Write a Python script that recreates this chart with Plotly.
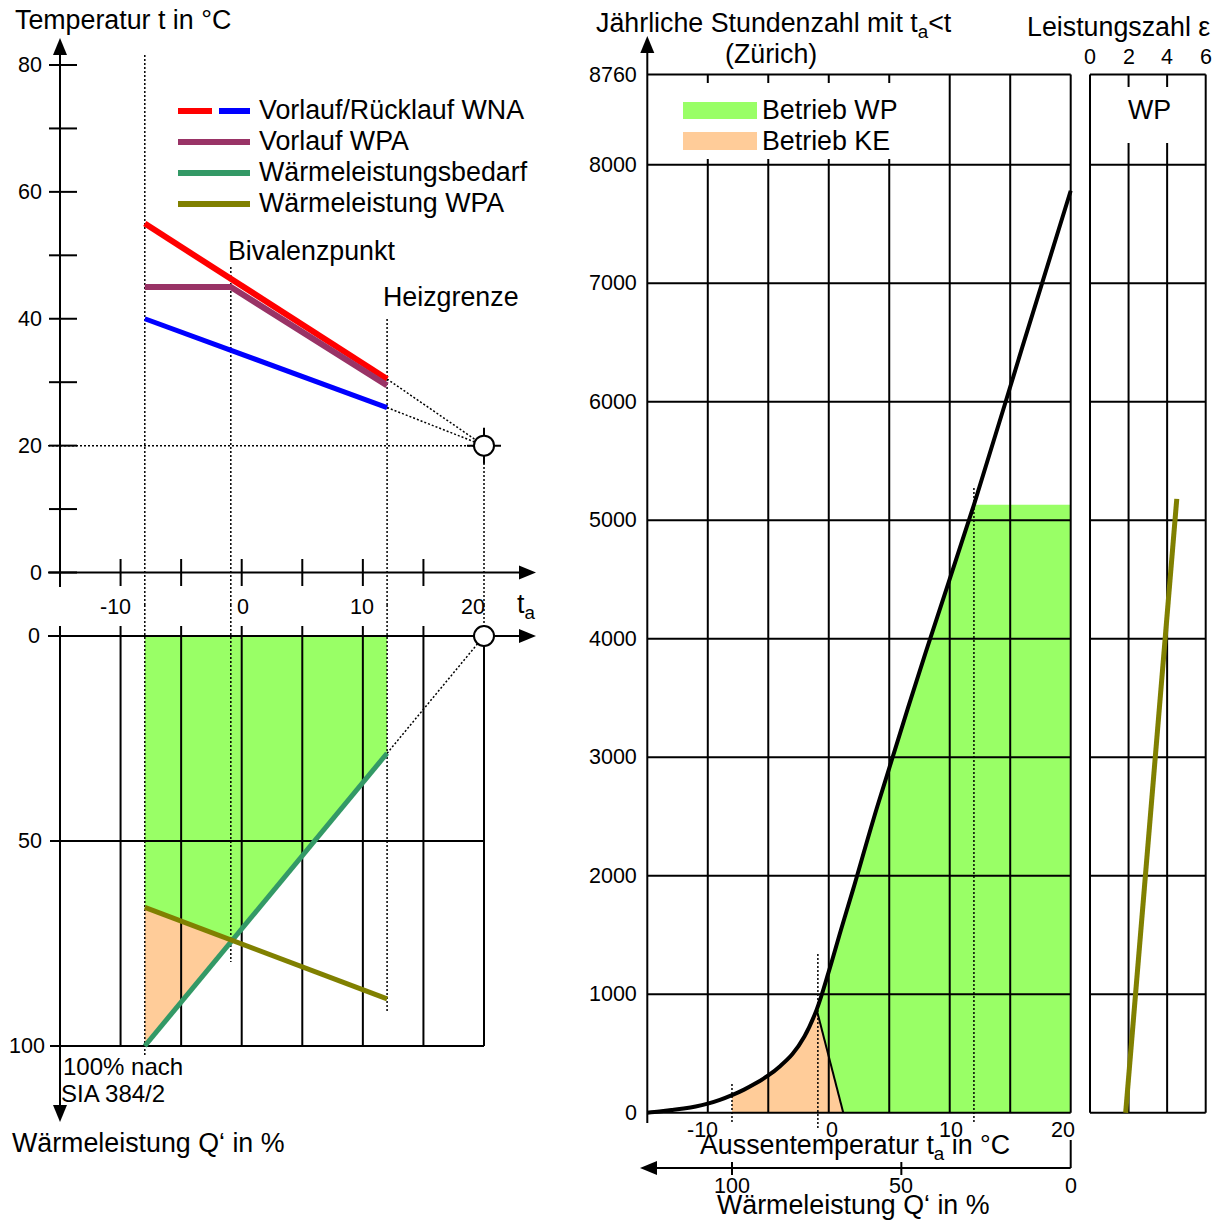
import plotly.graph_objects as go

W = H = 1220
FONT = "Liberation Sans, Arial, sans-serif"
K = "#000000"
RED, BLUE, PURPLE = "#FF0000", "#0000FF", "#993366"
SEAGREEN, OLIVE = "#339966", "#808000"
FILL_WP, FILL_KE = "#99FF66", "#FFCC99"
DOT = "2px,2px"
TXT = 26.8      # label font size
TCK = 21.5      # tick label font size

# ---------------- data ----------------
# top-left: supply / return temperatures vs. outdoor temperature ta
ta_wna = [-8, 12]
t_vl_wna = [55, 30.5]          # Vorlauf WNA
t_rl_wna = [40, 26]            # Rücklauf WNA
ta_vl_wpa = [-8, -0.9, 12]
t_vl_wpa = [45, 45, 29.5]      # Vorlauf WPA
ta_design = -8                 # Auslegungstemperatur
ta_biv = -0.9                  # Bivalenzpunkt
ta_hg = 12                     # Heizgrenze
ta_zero, t_zero = 20, 20       # convergence point

# bottom-left: heat power in % vs. ta
ta_bedarf = [-8, 12]
q_bedarf = [100, 28.6]         # Wärmeleistungsbedarf
ta_wpa_q = [-8, 12]
q_wpa = [66.2, 88.5]           # Wärmeleistung WPA

# right: yearly hours with ta < t (Zürich)
ta_hours = [-15, -14, -13, -12, -11, -10, -9, -8, -7, -6, -5, -4, -3, -2, -1,
            0, 1, 2, 4, 8, 12, 16, 20]
hours = [0, 10, 22, 35, 52, 76, 108, 148, 195, 250, 314, 395, 495, 645, 870,
         1190, 1540, 1880, 2580, 3880, 5130, 6460, 7780]
ta_split = [-1, 1.2]
h_split = [870, 0]

# far right: COP (Leistungszahl) of the heat pump vs. hours
cop_h = [0, 5180]
cop_eps = [1.85, 4.5]

# tick values
t_ticks = [0, 10, 20, 30, 40, 50, 60, 70, 80]
t_labels = [0, 20, 40, 60, 80]
ta_ticks = [-10, -5, 0, 5, 10, 15]
ta_grid = [-10, -5, 0, 5, 10, 15, 20]
ta_labels = [-10, 0, 10, 20]
q_grid = [50, 100]
q_labels = [0, 50, 100]
h_ticks = [0, 1000, 2000, 3000, 4000, 5000, 6000, 7000, 8000, 8760]
q_right_labels = [100, 50, 0]
eps_ticks = [0, 2, 4, 6]
eps_grid_inner = [2, 4]


# ---------------- scales (value <-> pixel) ----------------
class Sc:
    def __init__(s, v0, p0, v1, p1):
        s.k = (p1 - p0) / (v1 - v0)
        s.v0, s.p0 = v0, p0

    def v(s, p):
        return s.v0 + (p - s.p0) / s.k

    def p(s, v):
        return s.p0 + (v - s.v0) * s.k

    def dv(s, dp):
        return dp / abs(s.k)


XL = Sc(-15, 60, 20, 484)
YA = Sc(0, 572.5, 80, 65)
YB = Sc(0, 636, 100, 1046)
XC = Sc(-15, 647.3, 20, 1070.7)
YC = Sc(0, 1112.7, 8760, 74.6)
XD = Sc(0, 1090, 6, 1205.7)

PAN = {
    "A": ("x", "y", XL, YA),
    "B": ("x2", "y2", XL, YB),
    "C": ("x3", "y3", XC, YC),
    "D": ("x4", "y4", XD, YC),
}

fig = go.Figure()


def line(xs, ys, p, color=K, width=2, dash=None, shape="linear"):
    xa, ya = PAN[p][:2]
    fig.add_trace(go.Scatter(x=xs, y=ys, xaxis=xa, yaxis=ya, mode="lines",
                             line=dict(color=color, width=width, dash=dash,
                                       shape=shape),
                             hoverinfo="skip", showlegend=False))


def segs(lst, p, **kw):
    xs, ys = [], []
    for x0, y0, x1, y1 in lst:
        xs += [x0, x1, None]
        ys += [y0, y1, None]
    line(xs, ys, p, **kw)


def area(xs, ys, p, color):
    xa, ya = PAN[p][:2]
    fig.add_trace(go.Scatter(x=list(xs) + [xs[0]], y=list(ys) + [ys[0]],
                             xaxis=xa, yaxis=ya, mode="lines", fill="toself",
                             fillcolor=color, line=dict(width=0, color=color),
                             hoverinfo="skip", showlegend=False))


def arrow(tx, ty, d, p, L=17, hw=7):
    sx, sy = PAN[p][2:]
    X, Y = sx.p(tx), sy.p(ty)
    if d == "up":
        pts = [(X, Y), (X - hw, Y + L), (X + hw, Y + L)]
    elif d == "down":
        pts = [(X, Y), (X - hw, Y - L), (X + hw, Y - L)]
    elif d == "right":
        pts = [(X, Y), (X - L, Y - hw), (X - L, Y + hw)]
    else:
        pts = [(X, Y), (X + L, Y - hw), (X + L, Y + hw)]
    area([sx.v(a) for a, b in pts], [sy.v(b) for a, b in pts], p, K)


def circle(x, y, p):
    xa, ya = PAN[p][:2]
    fig.add_trace(go.Scatter(x=[x], y=[y], xaxis=xa, yaxis=ya, mode="markers",
                             marker=dict(size=20, color="white",
                                         line=dict(color=K, width=2)),
                             hoverinfo="skip", showlegend=False))


def ptext(s, x, y, size=TXT, xa="left", ya="middle"):
    fig.add_annotation(text=s, x=x / W, y=1 - y / H, xref="paper", yref="paper",
                       xanchor=xa, yanchor=ya, showarrow=False,
                       font=dict(family=FONT, size=size, color=K))


def dtext(s, x, y, p, xshift=0, yshift=0, size=TCK, xa="center", ya="middle"):
    xr, yr = PAN[p][:2]
    fig.add_annotation(text=s, x=x, y=y, xref=xr, yref=yr, xshift=xshift,
                       yshift=yshift, xanchor=xa, yanchor=ya, showarrow=False,
                       font=dict(family=FONT, size=size, color=K))


# ================= Panel A: temperatures =================
A_bot = YA.v(605)
segs([(ta_design, A_bot, ta_design, YA.v(55)),
      (ta_biv, A_bot, ta_biv, YA.v(267)),
      (ta_hg, A_bot, ta_hg, YA.v(318)),
      (XL.v(48), t_zero, ta_zero, t_zero),
      (ta_zero, A_bot, ta_zero, t_zero),
      (ta_wna[-1], t_vl_wna[-1], ta_zero, t_zero),
      (ta_wna[-1], t_rl_wna[-1], ta_zero, t_zero)], "A", width=1.5, dash=DOT)
segs([(-15, YA.v(587), -15, YA.v(50)), (XL.v(48), 0, XL.v(522), 0)], "A", width=2)
segs([(XL.v(49), t, XL.v(77), t) for t in t_ticks], "A", width=2)
segs([(v, YA.v(559), v, YA.v(586)) for v in ta_ticks], "A", width=2)
cx, cy = XL.dv(17), YA.dv(18)
segs([(ta_zero - cx, t_zero, ta_zero + cx, t_zero),
      (ta_zero, t_zero - cy, ta_zero, t_zero + cy)], "A", width=2)
line(ta_wna, t_rl_wna, "A", BLUE, 5)
line(ta_wna, t_vl_wna, "A", RED, 6)
line(ta_vl_wpa, t_vl_wpa, "A", PURPLE, 6)
circle(ta_zero, t_zero, "A")
arrow(-15, YA.v(38), "up", "A")
arrow(XL.v(536), 0, "right", "A")

for t in t_labels:
    dtext(str(t), -15, t, "A", xshift=-16, xa="right")
for v, sh in zip(ta_labels, [-5, 1, -1, -11]):
    dtext(str(v), v, 0, "A", xshift=sh, yshift=-34)

# ================= Panel B: heat power =================
sl_b = (q_bedarf[1] - q_bedarf[0]) / (ta_bedarf[1] - ta_bedarf[0])
sl_w = (q_wpa[1] - q_wpa[0]) / (ta_wpa_q[1] - ta_wpa_q[0])
ta_x = ta_design + (q_wpa[0] - q_bedarf[0]) / (sl_b - sl_w)
q_x = q_wpa[0] + sl_w * (ta_x - ta_design)
area([ta_design, ta_hg, ta_hg, ta_x, ta_design],
     [0, 0, q_bedarf[-1], q_x, q_wpa[0]], "B", FILL_WP)
area([ta_design, ta_x, ta_design], [q_wpa[0], q_x, q_bedarf[0]], "B", FILL_KE)
segs([(v, YB.v(626), v, 100) for v in ta_grid], "B", width=2)
segs([(XL.v(50), q, ta_zero, q) for q in q_grid], "B", width=2)
segs([(XL.v(48), 0, XL.v(522), 0), (-15, YB.v(626), -15, YB.v(1108))], "B", width=2)
B_top = YB.v(605)
segs([(ta_design, B_top, ta_design, YB.v(1056)),
      (ta_biv, B_top, ta_biv, YB.v(962)),
      (ta_hg, B_top, ta_hg, YB.v(1013)),
      (ta_zero, B_top, ta_zero, 0),
      (ta_bedarf[-1], q_bedarf[-1], ta_zero, 0)], "B", width=1.5, dash=DOT)
line(ta_bedarf, q_bedarf, "B", SEAGREEN, 5)
line(ta_wpa_q, q_wpa, "B", OLIVE, 5)
circle(ta_zero, 0, "B")
arrow(XL.v(536), 0, "right", "B")
arrow(-15, YB.v(1122), "down", "B")
for q, sh in zip(q_labels, [-18, -16, -13]):
    dtext(str(q), -15, q, "B", xshift=sh, xa="right")

# ================= Panel C: yearly hours =================
wp_top = hours[ta_hours.index(ta_hg)]
g_pts = [(a, b) for a, b in zip(ta_hours, hours) if ta_split[0] <= a <= ta_hg]
g_pts += [(20, wp_top), (20, 0), (ta_split[1], h_split[1])]
area([a for a, b in g_pts], [b for a, b in g_pts], "C", FILL_WP)
k_pts = [(ta_design, 0)] + [(a, b) for a, b in zip(ta_hours, hours)
                             if ta_design <= a <= ta_split[0]]
k_pts += [(ta_split[1], h_split[1])]
area([a for a, b in k_pts], [b for a, b in k_pts], "C", FILL_KE)

segs([(-15, h, 20, h) for h in h_ticks], "C", width=2)
leg_right = XC.v(900)
gap_lo, gap_hi = YC.v(159), YC.v(83)
vert = []
for v in ta_grid:
    if v < leg_right:
        vert += [(v, 0, v, gap_lo), (v, gap_hi, v, 8760)]
    else:
        vert.append((v, 0, v, 8760))
segs(vert, "C", width=2)
segs([(-15, YC.v(1123), -15, YC.v(50))], "C", width=2)
arrow(-15, YC.v(36), "up", "C")
segs([(ta_design, YC.v(1122), ta_design, YC.v(1083)),
      (ta_biv, YC.v(1128), ta_biv, YC.v(953)),
      (ta_hg, YC.v(1122), ta_hg, YC.v(487))], "C", width=1.5, dash=DOT)
line(ta_split, h_split, "C", K, 2)
line(ta_hours, hours, "C", K, 4, shape="spline")

# Wärmeleistung axis below the right panel
def q2ta(q):
    return ta_design + (100 - q) / 100 * (ta_zero - ta_design)

qy = YC.v(1168)
segs([(ta_zero, qy, XC.v(655), qy), (ta_zero, YC.v(1140), ta_zero, qy)] +
     [(q2ta(q), YC.v(1162), q2ta(q), YC.v(1175)) for q in q_right_labels if q > 0],
     "C", width=2)
arrow(XC.v(640), qy, "left", "C")

for h in h_ticks:
    dtext(str(h), -15, h, "C", xshift=-8, xa="right")
for v, sh in zip(ta_labels, [-5, 3, 1, -8]):
    dtext(str(v), v, 0, "C", xshift=sh, yshift=-17)
for q in q_right_labels:
    dtext(str(q), q2ta(q), qy, "C", yshift=-18)

# ================= Panel D: Leistungszahl =================
segs([(0, h, 6, h) for h in h_ticks], "D", width=2)
vd = [(0, 0, 0, 8760), (6, 0, 6, 8760)]
for e in eps_grid_inner:
    vd += [(e, 0, e, YC.v(143)), (e, YC.v(87), e, 8760)]
segs(vd, "D", width=2)
line(cop_eps, cop_h, "D", OLIVE, 5)
for e in eps_ticks:
    dtext(str(e), e, YC.v(57), "D")
dtext("WP", 3, YC.v(110), "D", size=TXT, xshift=2)

# ================= texts =================
ptext("Temperatur t in °C", 13, 20)
ptext("Bivalenzpunkt", 226, 251)
ptext("Heizgrenze", 381, 297)
ptext("t<sub>a</sub>", 515, 606)
ptext("100% nach", 61, 1066, size=24)
ptext("SIA 384/2", 59, 1093, size=24)
ptext("Wärmeleistung Q‘ in %", 10, 1143)
ptext("Jährliche Stundenzahl mit t<sub>a</sub>&lt;t", 594, 25)
ptext("(Zürich)", 771, 54, xa="center")
ptext("Leistungszahl ε", 1212, 27, xa="right")
ptext("Aussentemperatur t<sub>a</sub> in °C", 855, 1147, xa="center")
ptext("Wärmeleistung Q‘ in %", 853, 1205, xa="center")

# legend (left)
leg_left = [("Vorlauf/Rücklauf WNA", None, 110),
            ("Vorlauf WPA", PURPLE, 141),
            ("Wärmeleistungsbedarf", SEAGREEN, 172),
            ("Wärmeleistung WPA", OLIVE, 203)]
shapes = []
for name, col, y in leg_left:
    yy = 1 - (y + 1) / H
    if col is None:
        shapes.append(dict(type="line", xref="paper", yref="paper", x0=178 / W, x1=212 / W,
                           y0=yy, y1=yy, line=dict(color=RED, width=6)))
        shapes.append(dict(type="line", xref="paper", yref="paper", x0=219 / W, x1=250 / W,
                           y0=yy, y1=yy, line=dict(color=BLUE, width=6)))
    else:
        shapes.append(dict(type="line", xref="paper", yref="paper", x0=178 / W, x1=250 / W,
                           y0=yy, y1=yy, line=dict(color=col, width=6)))
    ptext(name, 257, y)

# legend (right)
for name, col, y0, y1, yt in [("Betrieb WP", FILL_WP, 102, 119, 110),
                              ("Betrieb KE", FILL_KE, 132, 150, 141)]:
    shapes.append(dict(type="rect", xref="paper", yref="paper", x0=683 / W, x1=757 / W,
                       y0=1 - y1 / H, y1=1 - y0 / H, fillcolor=col, line=dict(width=0)))
    ptext(name, 760, yt)


def xax(sc, p0, p1, anchor):
    return dict(domain=[p0 / W, p1 / W], range=[sc.v(p0), sc.v(p1)],
                visible=False, anchor=anchor, fixedrange=True)


def yax(sc, ptop, pbot, anchor):
    return dict(domain=[1 - pbot / H, 1 - ptop / H], range=[sc.v(pbot), sc.v(ptop)],
                visible=False, anchor=anchor, fixedrange=True)


fig.update_layout(
    width=W, height=H, autosize=False,
    margin=dict(l=0, r=0, t=0, b=0),
    paper_bgcolor="white", plot_bgcolor="rgba(0,0,0,0)",
    showlegend=False, shapes=shapes,
    font=dict(family=FONT, color=K),
    xaxis=xax(XL, 40, 548, "y"), yaxis=yax(YA, 28, 605, "x"),
    xaxis2=xax(XL, 40, 548, "y2"), yaxis2=yax(YB, 605, 1135, "x2"),
    xaxis3=xax(XC, 622, 1082, "y3"), yaxis3=yax(YC, 20, 1218, "x3"),
    xaxis4=xax(XD, 1083, 1218, "y4"), yaxis4=yax(YC, 20, 1218, "x4"),
)

fig.write_html("out.html", config={"displayModeBar": False},
               post_script="document.body.style.margin='0';")
